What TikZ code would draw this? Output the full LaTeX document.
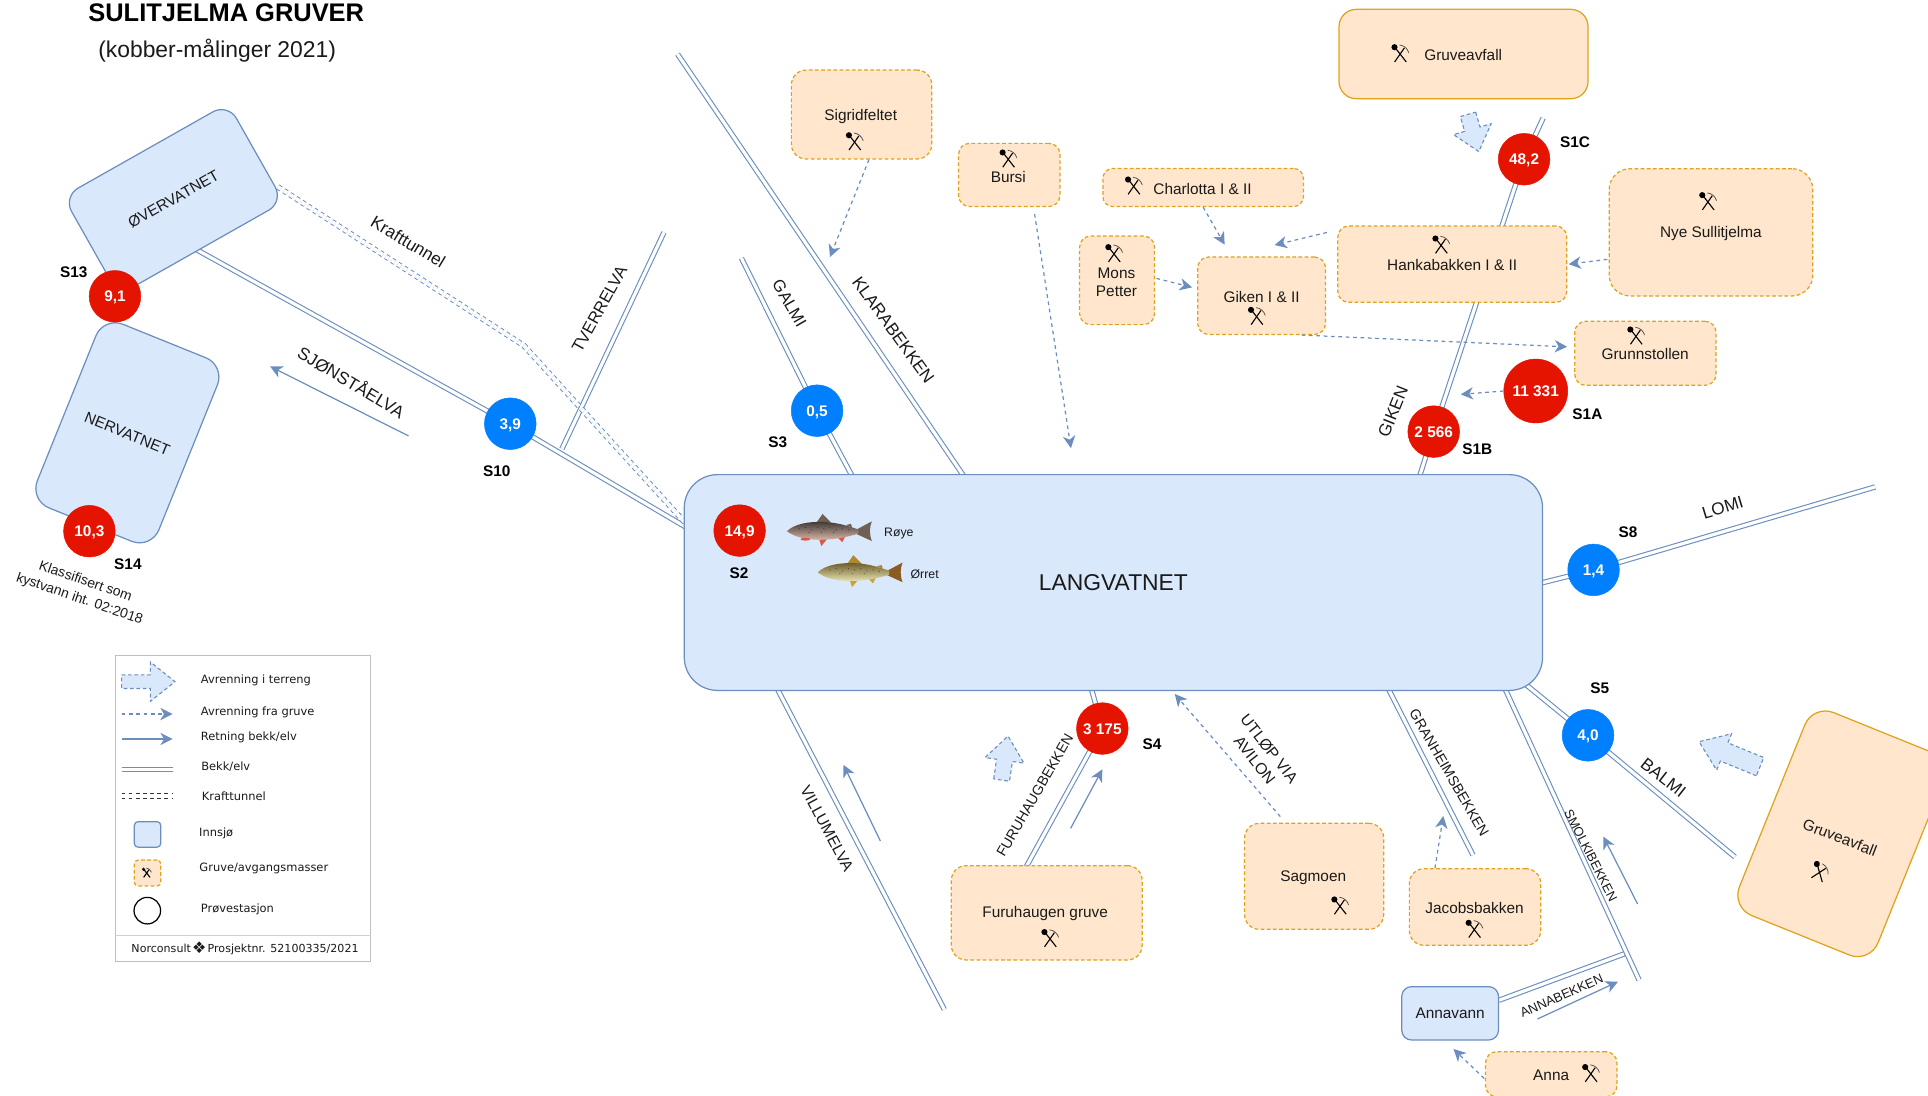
\documentclass[tikz,border=0pt]{standalone}
\usepackage{fontspec}
\setmainfont{Liberation Sans}
\newfontfamily\legendfont{DejaVu Sans}
\usetikzlibrary{arrows.meta,calc,shapes.geometric}
\pgfdeclarelayer{background}
\pgfsetlayers{background,main}
\definecolor{lakefill}{HTML}{DAE8FC}
\definecolor{lakeline}{HTML}{6C8EBF}
\definecolor{minefill}{HTML}{FFE6CC}
\definecolor{mineline}{HTML}{E0A21A}
\definecolor{stared}{HTML}{E51400}
\definecolor{stablue}{HTML}{007FFF}
\definecolor{inktxt}{HTML}{1A1A1A}
\tikzset{
  sz/.style={font=\fontsize{#1}{15}\selectfont},
  txt/.style={inner sep=0pt,text=inktxt,sz=12.5,align=center,yshift=-.8pt},
  stn/.style={inner sep=0pt,text=black,font=\fontsize{12.5}{15}\selectfont\bfseries},
  river/.style={draw=lakeline,line width=.9pt,double=white,double distance=2.6pt},
  kraft/.style={draw=lakeline,line width=.8pt,double=white,double distance=3pt,dash pattern=on 3pt off 2.8pt},
  flow/.style={draw=lakeline,line width=1pt,dash pattern=on 3pt off 3pt,-{Stealth[length=10pt,width=10pt,inset=3pt]}},
  retning/.style={draw=lakeline,line width=1pt,-{Stealth[length=10pt,width=10pt,inset=3pt]}},
  lakebox/.style={draw=lakeline,fill=lakefill,line width=1pt,rounded corners=#1,inner sep=0pt},
  lakebox/.default=16pt,
  minesolid/.style={draw=mineline,fill=minefill,line width=1pt,rounded corners=#1,inner sep=0pt},
  minesolid/.default=14pt,
  minedash/.style={draw=mineline,fill=minefill,line width=1pt,rounded corners=#1,inner sep=0pt,dash pattern=on 3pt off 2pt},
  minedash/.default=12pt,
  redstn/.style={circle,fill=stared,draw=stared,minimum size=#1,inner sep=0pt,text=white,text height=9pt,text depth=0pt,font=\fontsize{12.5}{15}\selectfont\bfseries},
  redstn/.default=42pt,
  bluestn/.style={circle,fill=stablue,draw=stablue,minimum size=42pt,inner sep=0pt,text=white,text height=9pt,text depth=0pt,font=\fontsize{12.5}{15}\selectfont\bfseries},
  fatarrow/.style={draw=lakeline,fill=lakefill,line width=.9pt,dash pattern=on 3pt off 2.2pt},
  legtxt/.style={inner sep=0pt,anchor=west,text=inktxt,font=\legendfont\fontsize{9.3}{11}\selectfont},
  mine/.pic={
    \fill[black] (-4.6,-5) circle[radius=2.5];
    \draw[black,line width=.9pt] (-4,-4.5) -- (5,7);
    \draw[black,line width=.9pt] (-4.5,7) -- (3.5,-4.5);
    \draw[black!70,line width=.6pt] (-0.5,-6.8) .. controls (3,-6.5) and (6,-4) .. (7,-0.5);
  }
}
% tail, tip, shaft half width, head half width, head length
\newcommand{\fatblock}[5]{%
  \coordinate (fT) at (#1);\coordinate (fH) at (#2);
  \coordinate (fB) at ($(fH)!#5pt!(fT)$);
  \draw[fatarrow] ($(fT)!#3pt!90:(fH)$) -- ($(fB)!#3pt!90:(fH)$) -- ($(fB)!#4pt!90:(fH)$) -- (fH)
    -- ($(fB)!#4pt!-90:(fH)$) -- ($(fB)!#3pt!-90:(fH)$) -- ($(fT)!#3pt!-90:(fH)$) -- cycle;
}
% x,y of nose; back, middle, belly, dorsal fin, tail, lower fin colours
\newcommand{\fishshape}[8]{%
\begin{scope}[shift={(#1,#2)}]
  \fill[#7] (56,-1) -- (69,-8) .. controls (67,-3) and (67,3) .. (69,8) -- (56,2) -- cycle;
  \fill[#6] (24,-7) -- (29,-14) -- (36,-7) -- cycle;
  \fill[#8] (26,6) -- (28,12) -- (33,6) -- cycle;
  \fill[#8] (40,4) -- (45,9) -- (48,3) -- cycle;
  \fill[#6] (48,-5) -- (52,-6) -- (53,-3) -- cycle;
  \shade[top color=#3,middle color=#4,bottom color=#5]
    (0,0) .. controls (6,-6) and (18,-8) .. (30,-7.5) .. controls (42,-7) and (50,-4) .. (58,-1.5)
    -- (58,2) .. controls (48,5) and (38,7) .. (26,7) .. controls (14,7) and (5,4) .. (0,0) -- cycle;
  \foreach \a/\b in {10/-2,15/-3,20/-1,25/-3,30/-2,35/-3,40/-1,45/-2,50/-1,18/1,28/1,38/1}
    \fill[black,opacity=.4] (\a,\b) circle[radius=.55];
\end{scope}}
\definecolor{rback}{HTML}{3D3833}
\definecolor{rmid}{HTML}{8B8A78}
\definecolor{rbelly}{HTML}{D8B4A6}
\definecolor{rfin}{HTML}{6E6052}
\definecolor{rlow}{HTML}{D8584A}
\definecolor{oback}{HTML}{6B5A2A}
\definecolor{omid}{HTML}{BBAD6C}
\definecolor{obelly}{HTML}{E6E2B0}
\definecolor{ofin}{HTML}{B08A30}
\definecolor{otail}{HTML}{8A5C24}
\definecolor{olow}{HTML}{D0A030}
\begin{document}
\begin{tikzpicture}[x=1pt,y=-1pt]
\useasboundingbox (0,0) rectangle (1568,891.3);
\clip (0,0) rectangle (1568,891.3);

% Title
\node[inner sep=0pt,text=black,font=\fontsize{20.7}{24}\selectfont\bfseries] (title) at (184,10.6) {SULITJELMA GRUVER};
\node[inner sep=0pt,text=inktxt,font=\fontsize{18.6}{22}\selectfont] (subtitle) at (176.6,41) {(kobber-målinger 2021)};

% Lakes
\node[lakebox=27pt,minimum width=698pt,minimum height=175.5pt,font=\fontsize{18.6}{22}\selectfont,text=inktxt] (lake) at (905.5,473.75) {LANGVATNET};
\node[lakebox=14pt,minimum width=154pt,minimum height=92pt,rotate=29.5,text=inktxt,font=\fontsize{12.5}{15}\selectfont] (over) at (141,162) {ØVERVATNET};
\node[lakebox=17pt,minimum width=106.6pt,minimum height=161pt,rotate=-22,text=inktxt] (nerv) at (103.6,352) {};
\node[txt,rotate=-22] (nervT) at (103.5,352) {NERVATNET};
\node[lakebox=8pt,minimum width=78.7pt,minimum height=43.4pt,text=inktxt,font=\fontsize{12.5}{15}\selectfont] (annavann) at (1179.35,824.1) {Annavann};

% Mine boxes
\node[minedash,minimum width=114.2pt,minimum height=72.3pt] (sigrid) at (700.7,93.15) {};
\node[txt] (sigridT) at (700,94) {Sigridfeltet};
\pic at (695,115) {mine};
\node[minedash=9pt,minimum width=82.4pt,minimum height=51.4pt] (bursi) at (820.8,142.3) {};
\node[txt] (bursiT) at (820,143) {Bursi};
\pic at (820,129) {mine};
\node[minedash=8pt,minimum width=163pt,minimum height=31pt] (charl) at (978.5,152.5) {};
\node[txt] (charlT) at (978,153) {Charlotta I \& II};
\pic at (922,151) {mine};
\node[minedash=9pt,minimum width=61pt,minimum height=72pt] (mons) at (908.5,228) {};
\node[txt] (monsT) at (908,229) {Mons\\Petter};
\pic at (906,206) {mine};
\node[minedash=9pt,minimum width=104pt,minimum height=63pt] (giken) at (1026,240.5) {};
\node[txt] (gikenT) at (1026,241) {Giken I \& II};
\pic at (1022,257) {mine};
\node[minedash=9pt,minimum width=186.2pt,minimum height=62.1pt] (hanka) at (1181.1,214.85) {};
\node[txt] (hankaT) at (1181,215) {Hankabakken I \& II};
\pic at (1172,199) {mine};
\node[minedash=17pt,minimum width=165.6pt,minimum height=103.5pt] (nye) at (1391.5,188.95) {};
\node[txt] (nyeT) at (1391.4,189) {Nye Sullitjelma};
\pic at (1389,163.7) {mine};
\node[minedash=9pt,minimum width=114.9pt,minimum height=52.1pt] (grunn) at (1338.15,287.35) {};
\node[txt] (grunnT) at (1338,287.4) {Grunnstollen};
\pic at (1330.5,273) {mine};
\node[minesolid,minimum width=202.5pt,minimum height=72.7pt] (gruveN) at (1190.25,43.95) {};
\node[txt] (gruveNT) at (1190,44) {Gruveavfall};
\pic at (1138.7,43.4) {mine};
\node[minedash,minimum width=155.2pt,minimum height=76.7pt] (furu) at (851.3,742.35) {};
\node[txt] (furuT) at (850,742.4) {Furuhaugen gruve};
\pic at (854,763) {mine};
\node[minedash,minimum width=113.1pt,minimum height=86.2pt] (sag) at (1068.75,712.7) {};
\node[txt] (sagT) at (1068,713.2) {Sagmoen};
\pic at (1089.8,736.5) {mine};
\node[minedash,minimum width=106.8pt,minimum height=62.3pt] (jacob) at (1199.6,737.65) {};
\node[txt] (jacobT) at (1199.2,738) {Jacobsbakken};
\pic at (1199,755.5) {mine};
\node[minedash=9pt,minimum width=106.8pt,minimum height=36.7pt] (anna) at (1261.6,873.65) {};
\node[txt] (annaT) at (1261.5,873.6) {Anna};
\pic at (1293.8,872.8) {mine};
\node[minesolid=18pt,minimum width=121.6pt,minimum height=178pt,rotate=-22] (gruveS) at (1497.6,678.1) {};
\node[txt,rotate=-21] (gruveST) at (1496.4,680.4) {Gruveavfall};
\pic[rotate=-22] at (1480,709) {mine};

% Stations
\node[redstn] (s13) at (93.5,241) {9,1};
\node[redstn] (s14) at (72.7,432) {10,3};
\node[bluestn] (s10) at (415,344.6) {3,9};
\node[bluestn] (s3) at (664.5,334) {0,5};
\node[redstn] (s2) at (601.5,431.5) {14,9};
\node[bluestn] (s8) at (1296,463.5) {1,4};
\node[bluestn] (s5) at (1291.5,598) {4,0};
\node[redstn] (s4) at (896.5,592.5) {3 175};
\node[redstn] (s1b) at (1166,351) {2 566};
\node[redstn=52pt] (s1a) at (1249,318) {11 331};
\node[redstn] (s1c) at (1239.5,129.5) {48,2};

\node[stn] (l13) at (60,221) {S13};
\node[stn] (l14) at (104,458.5) {S14};
\node[stn] (l10) at (404,383) {S10};
\node[stn] (l3) at (632.5,360) {S3};
\node[stn] (l2) at (601,466) {S2};
\node[stn] (l8) at (1324,433) {S8};
\node[stn] (l5) at (1301,560) {S5};
\node[stn] (l4) at (937,605) {S4};
\node[stn] (l1b) at (1201.5,365.5) {S1B};
\node[stn] (l1a) at (1291,337) {S1A};
\node[stn] (l1c) at (1281,115.5) {S1C};

% Free ends of rivers
\coordinate (klaraTop) at (551,44);
\coordinate (klaraEnd) at (785,389);
\coordinate (galmiTop) at (603,210);
\coordinate (galmiEnd) at (694,389);
\coordinate (tverrTop) at (540,189);
\coordinate (tverrEnd) at (457,365);
\coordinate (staA) at (158,202);
\coordinate (staB) at (560,430);
\coordinate (kraA) at (226,152);
\coordinate (kraK) at (426,281);
\coordinate (kraB) at (558,426);
\coordinate (gikTop) at (1255,96);
\coordinate (gikEnd) at (1154,389);
\coordinate (lomiEnd) at (1525,396);
\coordinate (lomiStart) at (1250,475);
\coordinate (balmiA) at (1240,556);
\coordinate (balmiB) at (1411,697);
\coordinate (smolA) at (1223,558);
\coordinate (smolB) at (1333,797);
\coordinate (granA) at (1128,558);
\coordinate (granB) at (1198,695.5);
\coordinate (furuTop) at (887,558);
\coordinate (furuEnd) at (834,706);
\coordinate (villA) at (631,558);
\coordinate (villB) at (768,821);
\coordinate (annaEnd) at (1323,775);
\coordinate (annaStart) at (1219,813.5);

\begin{pgfonlayer}{background}
  \draw[river] (klaraTop) -- (klaraEnd);
  \draw[river] (galmiTop) -- (s3.center) -- (galmiEnd);
  \draw[river] (tverrTop) -- (tverrEnd);
  \draw[river] (staA) -- (s10.center) -- (staB);
  \draw[kraft] (kraA) -- (kraK) -- (kraB);
  \draw[river] (gikTop) -- (s1c.center) -- (s1b.center) -- (gikEnd);
  \draw[river] (lomiStart) -- (s8.center) -- (lomiEnd);
  \draw[river] (balmiA) -- (s5.center) -- (balmiB);
  \draw[river] (annaStart) -- (annaEnd);
  \draw[river] (smolA) -- (smolB);
  \draw[river] (granA) -- (granB);
  \draw[river] (furuTop) -- (s4.center) -- (furuEnd);
  \draw[river] (villA) -- (villB);
\end{pgfonlayer}

% Flow arrows from mines
\coordinate (sigridEnd) at (675,209);
\coordinate (bursiEnd) at (871,364.5);
\coordinate (charlEnd) at (996,199);
\coordinate (hankaEnd) at (1036.6,199.3);
\coordinate (s1aEnd) at (1188,320.7);
\coordinate (sagEnd) at (955.4,564.4);
\coordinate (jacobEnd) at (1173.8,663.6);
\draw[flow] ([shift={(6,0)}]sigrid.south) -- (sigridEnd);
\draw[flow] ([shift={(20.6,5.5)}]bursi.south) -- (bursiEnd);
\draw[flow] (charl.south) -- (charlEnd);
\draw[flow] ([shift={(1,-1.6)}]mons.east) -- ([shift={(-4,-6.8)}]giken.west);
\draw[flow] ([shift={(-8.4,-25.8)}]hanka.west) -- (hankaEnd);
\draw[flow] ([shift={(-1,22)}]nye.west) -- ([shift={(1,0)}]hanka.east);
\draw[flow] ([shift={(-20,0)}]giken.south east) -- ([shift={(-5.7,-5.3)}]grunn.west);
\draw[flow] (s1a.west) -- (s1aEnd);
\draw[flow] ([shift={(-27.5,-5)}]sag.north) -- (sagEnd);
\draw[flow] ([shift={(-32.6,0)}]jacob.north) -- (jacobEnd);
\draw[flow] ([shift={(-.7,3.4)}]anna.west) -- ([shift={(2.7,6.8)}]annavann.south);

% River direction arrows
\coordinate (dA1) at (332.2,354.5); \coordinate (dA2) at (219.7,298);
\coordinate (dB1) at (870.7,673.7); \coordinate (dB2) at (896.5,625.7);
\coordinate (dC1) at (716,684);     \coordinate (dC2) at (686,622);
\coordinate (dD1) at (1331.8,735.2);\coordinate (dD2) at (1304,680.4);
\coordinate (dE1) at (1250.4,828.7);\coordinate (dE2) at (1315.8,798.4);
\draw[retning] (dA1) -- (dA2);
\draw[retning] (dB1) -- (dB2);
\draw[retning] (dC1) -- (dC2);
\draw[retning] (dD1) -- (dD2);
\draw[retning] (dE1) -- (dE2);

% Terrain runoff arrows
\fatblock{1193.9,93}{1202.7,123.3}{6.5}{15.9}{19}
\fatblock{814.6,634.4}{819.8,598.6}{6.5}{16}{20}
\fatblock{1431.4,623.5}{1381.8,603.2}{8}{16}{22}

% River labels
\node[txt,sz=14,rotate=-31] (tKraft) at (332,196) {Krafttunnel};
\node[txt,sz=14,rotate=-31] (tSjon) at (286,309.5) {SJØNSTÅELVA};
\node[txt,sz=13.5,rotate=61] (tTverr) at (487.5,250.6) {TVERRELVA};
\node[txt,sz=13.5,rotate=-60] (tGalmi) at (642,246) {GALMI};
\node[txt,sz=14,rotate=-54] (tKlara) at (726.5,267.7) {KLARABEKKEN};
\node[txt,sz=14,rotate=68] (tGiken) at (1132.9,334) {GIKEN};
\node[txt,sz=14,rotate=17] (tLomi) at (1401,412) {LOMI};
\node[txt,sz=14,rotate=-38] (tBalmi) at (1352.8,631.7) {BALMI};
\node[txt,sz=10.5,rotate=-63] (tSmol) at (1293.8,695) {SMOLKIBEKKEN};
\node[txt,sz=11.6,rotate=-60] (tGran) at (1178.5,627.6) {GRANHEIMSBEKKEN};
\node[txt,sz=11.6,rotate=60] (tFuru) at (841.6,646) {FURUHAUGBEKKEN};
\node[txt,sz=12.8,rotate=-62] (tVill) at (672.5,673) {VILLUMELVA};
\node[txt,sz=12.8,rotate=-52] (tUtl) at (1026.4,612.7) {UTLØP VIA\\AVILON};
\node[txt,sz=10.6,rotate=24] (tAnna) at (1270,809) {ANNABEKKEN};
\node[txt,sz=11.3,rotate=-19] (tKlass) at (67,479.5) {Klassifisert som\\kystvann iht. 02:2018};

% Fish
\fishshape{640}{432}{rback}{rmid}{rbelly}{rfin}{rfin}{rlow}
\fill[rlow] (655,438.5) ellipse[x radius=4,y radius=1.2];
\fishshape{665}{465.5}{oback}{omid}{obelly}{ofin}{otail}{olow}
\node[txt,sz=10] (roye) at (731,433.5) {Røye};
\node[txt,sz=10] (orret) at (752,466.5) {Ørret};

% Legend
\node[draw=black!25,fill=white,line width=.9pt,minimum width=207pt,minimum height=248.8pt,inner sep=0pt] (legend) at (197.5,657.6) {};
\draw[black!18,line width=.9pt] (legend.west |- 0,761) -- (legend.east |- 0,761);
\fatblock{98.9,554.4}{142.3,554.4}{5.5}{16}{20}
\coordinate (lg1a) at (98.9,580.7);\coordinate (lg1b) at (140.4,580.7);
\coordinate (lg2a) at (98.9,601);\coordinate (lg2b) at (140.4,601);
\coordinate (lg3a) at (98.9,625.6);\coordinate (lg3b) at (140.4,625.6);
\coordinate (lg4a) at (98.9,647.4);\coordinate (lg4b) at (140.4,647.4);
\draw[flow] (lg1a) -- (lg1b);
\draw[retning] (lg2a) -- (lg2b);
\draw[river] (lg3a) -- (lg3b);
\draw[kraft,draw=black!80] (lg4a) -- (lg4b);
\node[lakebox=3pt,minimum width=21.5pt,minimum height=20.7pt] (lgLake) at (120,678.6) {};
\node[minedash=3pt,minimum width=21.5pt,minimum height=21pt] (lgMine) at (120,710) {};
\pic[scale=.55] at (119.3,709.7) {mine};
\node[circle,draw=black,line width=1pt,minimum size=21.6pt,inner sep=0pt,fill=white] (lgStn) at (119.8,740.6) {};
\node[legtxt] (lgT1) at (163.2,553) {Avrenning i terreng};
\node[legtxt] (lgT2) at (163.2,579.3) {Avrenning fra gruve};
\node[legtxt] (lgT3) at (163.2,600) {Retning bekk/elv};
\node[legtxt] (lgT4) at (163.5,623.8) {Bekk/elv};
\node[legtxt] (lgT5) at (164,647.4) {Krafttunnel};
\node[legtxt] (lgT6) at (161.8,677.7) {Innsjø};
\node[legtxt] (lgT7) at (162,706.5) {Gruve/avgangsmasser};
\node[legtxt] (lgT8) at (163.2,739.6) {Prøvestasjon};
\node[inner sep=0pt,text=inktxt,font=\legendfont\fontsize{9}{11}\selectfont] (lgFoot) at (199.3,771.2) {Norconsult\hspace{1pt}\raisebox{-1.2pt}{\fontsize{13}{11}\selectfont ❖}\hspace{1pt}Prosjektnr. 52100335/2021};
\end{tikzpicture}
\end{document}
